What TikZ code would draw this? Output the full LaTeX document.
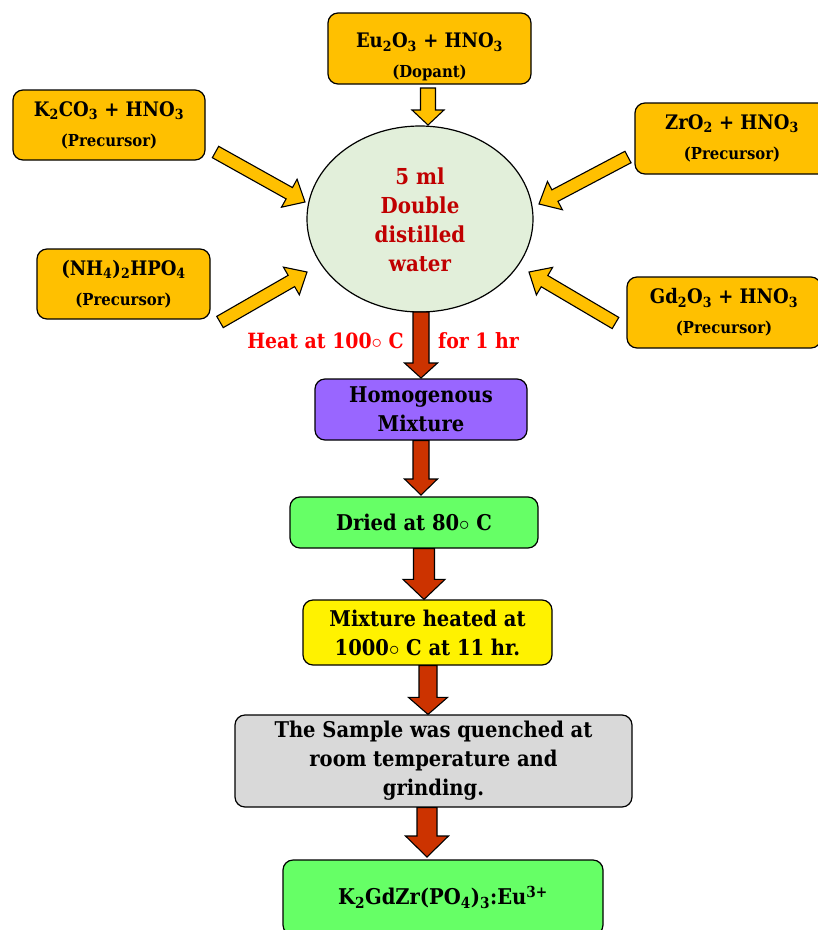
\documentclass[tikz,border=0pt]{standalone}
\usepackage{fontspec}
\setmainfont{DejaVu Serif Condensed}
\usetikzlibrary{calc}
\definecolor{gold}{HTML}{FFC000}
\definecolor{arrred}{HTML}{CC3300}
\definecolor{ellfill}{HTML}{E2EFDA}
\definecolor{darkred}{HTML}{C00000}
\definecolor{purp}{HTML}{9966FF}
\definecolor{lgreen}{HTML}{66FF66}
\definecolor{lgray}{HTML}{D9D9D9}
\newcommand\blockarrow[6]{%
  \coordinate (hb) at ($(#2)!#5!(#1)$);
  \draw[#6] ($(#1)!#3!90:(#2)$) -- ($(hb)!#3!90:(#2)$) -- ($(hb)!#4!90:(#2)$) -- (#2)
     -- ($(hb)!#4!-90:(#2)$) -- ($(hb)!#3!-90:(#2)$) -- ($(#1)!#3!-90:(#2)$) -- cycle;}
\tikzset{
  box/.style={draw=black, line width=1.2pt, rounded corners=10pt, align=center, inner sep=2pt, font=\bfseries\fontsize{21.7}{29}\selectfont},
  srcbox/.style={box, font=\bfseries\fontsize{20}{27}\selectfont, fill=gold},
  yarrow/.style={draw=black, line width=1.1pt, fill=gold, line join=miter},
  rarrow/.style={draw=black, line width=1.1pt, fill=arrred, line join=miter},
}
\newcommand\sm[1]{{\fontsize{16.5}{20}\selectfont #1}}
\begin{document}
\begin{tikzpicture}[x=1pt,y=-1pt]
\clip (0,0) rectangle (818,930);
\fill[white] (0,0) rectangle (818,930);
% source boxes
\node[srcbox, minimum width=203pt, minimum height=71pt] (eu) at (429.5,48.5) {\rule{0pt}{32pt}Eu\textsubscript{2}O\textsubscript{3} + HNO\textsubscript{3}\\[3pt] \sm{(Dopant)}};
\node[srcbox, minimum width=192pt, minimum height=70pt] (k2) at (109,125) {K\textsubscript{2}CO\textsubscript{3} + HNO\textsubscript{3}\\[3pt] \sm{(Precursor)}};
\node[srcbox, minimum width=194pt, minimum height=71pt] (zr) at (732,138.5) {ZrO\textsubscript{2} + HNO\textsubscript{3}\\[3pt] \sm{(Precursor)}};
\node[srcbox, minimum width=173pt, minimum height=70pt] (nh) at (123.5,284) {(NH\textsubscript{4})\textsubscript{2}HPO\textsubscript{4}\\[3pt] \sm{(Precursor)}};
\node[srcbox, minimum width=194pt, minimum height=71pt] (gd) at (724,312.5) {Gd\textsubscript{2}O\textsubscript{3} + HNO\textsubscript{3}\\[3pt] \sm{(Precursor)}};
% ellipse
\draw[line width=1.2pt, fill=ellfill] (420,219) ellipse [x radius=113, y radius=93];
\node[align=center, text=darkred, font=\bfseries\fontsize{22}{29}\selectfont] (ell) at (420,220) {5 ml\\Double\\distilled\\water};
% process boxes
\node[box, fill=purp, minimum width=212pt, minimum height=61pt] (hom) at (421,409.5) {Homogenous\\Mixture};
\node[box, fill=lgreen, minimum width=248pt, minimum height=51pt] (dried) at (414,522.5) {Dried at 80$\circ$ C};
\node[box, fill=yellow, minimum width=249pt, minimum height=65pt] (mix) at (427.5,632.5) {Mixture heated at\\1000$\circ$ C at 11 hr.};
\node[box, fill=lgray, minimum width=397pt, minimum height=92pt] (samp) at (433.5,761) {The Sample was quenched at\\room temperature and\\grinding.};
\node[box, fill=lgreen, minimum width=320pt, minimum height=75pt] (fin) at (443,897.5) {K\textsubscript{2}GdZr(PO\textsubscript{4})\textsubscript{3}:Eu\textsuperscript{3+}};
% labels
\node[text=red, font=\bfseries\fontsize{21}{24}\selectfont] (lab1) at (325.5,341) {Heat at 100$\circ$ C};
\node[text=red, font=\bfseries\fontsize{21}{24}\selectfont] (lab2) at (478.5,341) {for 1 hr};
% yellow arrows
\coordinate (a0t) at (428,88); \coordinate (a0h) at (428,125);
\blockarrow{a0t}{a0h}{7.5pt}{16pt}{15pt}{yarrow}
\coordinate (a1t) at (215.5,152); \coordinate (a1h) at (305,202);
\blockarrow{a1t}{a1h}{6.5pt}{16pt}{18pt}{yarrow}
\coordinate (a2t) at (220,322); \coordinate (a2h) at (307,272);
\blockarrow{a2t}{a2h}{6.5pt}{16pt}{18pt}{yarrow}
\coordinate (a3t) at (628,157); \coordinate (a3h) at (539,204);
\blockarrow{a3t}{a3h}{6.5pt}{16pt}{18pt}{yarrow}
\coordinate (a4t) at (615.5,323); \coordinate (a4h) at (529,272);
\blockarrow{a4t}{a4h}{6.5pt}{16pt}{18pt}{yarrow}
% red arrows
\coordinate (r1t) at (421,312); \coordinate (r1h) at (421,378);
\blockarrow{r1t}{r1h}{8pt}{16.5pt}{15pt}{rarrow}
\coordinate (r2t) at (hom.south); \coordinate (r2h) at (421,495);
\blockarrow{r2t}{r2h}{8pt}{16.5pt}{16pt}{rarrow}
\coordinate (c3) at (424,0);
\coordinate (r3t) at (c3 |- dried.south); \coordinate (r3h) at (c3 |- mix.north);
\blockarrow{r3t}{r3h}{10.5pt}{21pt}{20pt}{rarrow}
\coordinate (c4) at (428,0);
\coordinate (r4t) at (c4 |- mix.south); \coordinate (r4h) at (c4 |- samp.north);
\blockarrow{r4t}{r4h}{9pt}{19.5pt}{17pt}{rarrow}
\coordinate (c5) at (427,0);
\coordinate (r5t) at (c5 |- samp.south); \coordinate (r5h) at (427,857);
\blockarrow{r5t}{r5h}{10pt}{21.5pt}{21pt}{rarrow}
\end{tikzpicture}
\end{document}
